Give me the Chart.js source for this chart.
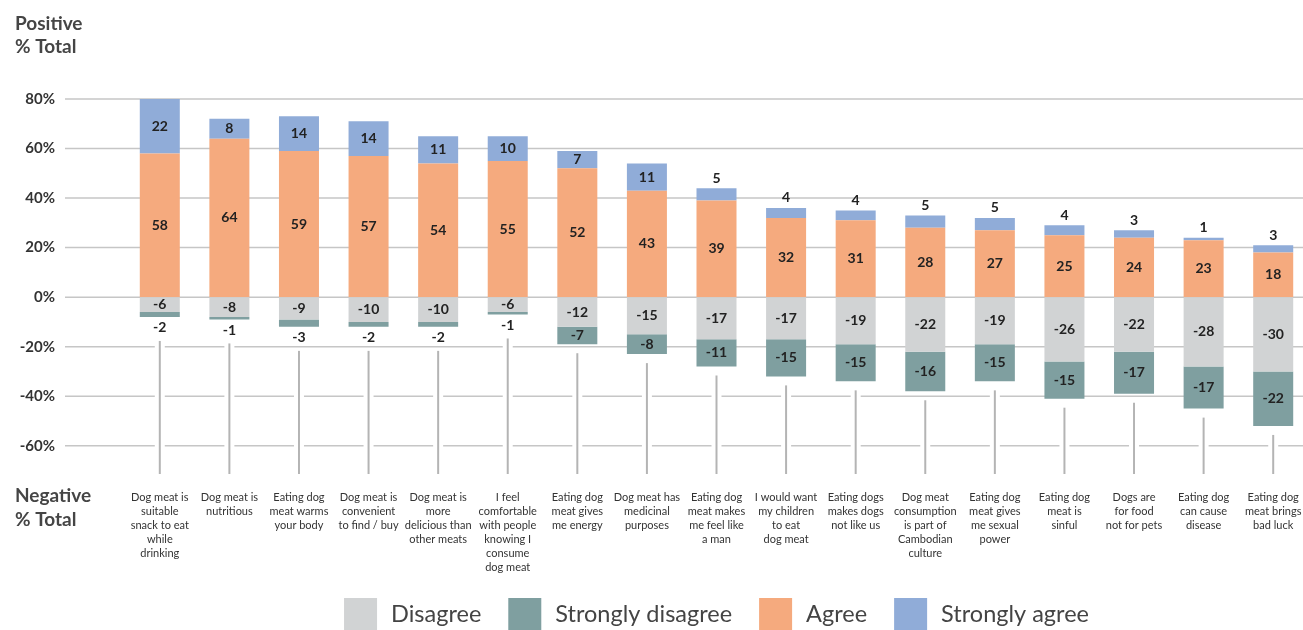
<!DOCTYPE html>
<html><head><meta charset="utf-8">
<script src="https://cdn.jsdelivr.net/npm/chart.js@4/dist/chart.umd.min.js"></script>
<style>
html,body{margin:0;padding:0;background:#fff;overflow:hidden;width:1303px;height:630px}
#wrap{position:relative;width:1308px;height:630px}
</style></head>
<body><div id="wrap"><canvas id="c"></canvas></div>
<script>
const categories = [
  ["Dog meat is","suitable","snack to eat","while","drinking"],
  ["Dog meat is","nutritious"],
  ["Eating dog","meat warms","your body"],
  ["Dog meat is","convenient","to find / buy"],
  ["Dog meat is","more","delicious than","other meats"],
  ["I feel","comfortable","with people","knowing I","consume","dog meat"],
  ["Eating dog","meat gives","me energy"],
  ["Dog meat has","medicinal","purposes"],
  ["Eating dog","meat makes","me feel like","a man"],
  ["I would want","my children","to eat","dog meat"],
  ["Eating dogs","makes dogs","not like us"],
  ["Dog meat","consumption","is part of","Cambodian","culture"],
  ["Eating dog","meat gives","me sexual","power"],
  ["Eating dog","meat is","sinful"],
  ["Dogs are","for food","not for pets"],
  ["Eating dog","can cause","disease"],
  ["Eating dog","meat brings","bad luck"]
];
const disagree         = [-6,-8,-9,-10,-10,-6,-12,-15,-17,-17,-19,-22,-19,-26,-22,-28,-30];
const stronglyDisagree = [-2,-1,-3,-2,-2,-1,-7,-8,-11,-15,-15,-16,-15,-15,-17,-17,-22];
const agree            = [58,64,59,57,54,55,52,43,39,32,31,28,27,25,24,23,18];
const stronglyAgree    = [22,8,14,14,11,10,7,11,5,4,4,5,5,4,3,1,3];
const yTicks = [-60,-40,-20,0,20,40,60,80];
const seriesNames = ["Disagree","Strongly disagree","Agree","Strongly agree"];
const seriesColors = ["#d1d3d4","#7f9fa0","#f5aa7e","#90acd8"];

const FONT = 'Lato, "Open Sans", sans-serif';

const decor = {
  id: 'decor',
  beforeDatasetsDraw(chart) {
    const {ctx, chartArea: a, scales: {x, y}} = chart;
    ctx.save();
    ctx.strokeStyle = '#c6c6c6';
    ctx.lineWidth = 1.5;
    yTicks.forEach(v => {
      const py = y.getPixelForValue(v);
      ctx.beginPath(); ctx.moveTo(65, py); ctx.lineTo(chart.width, py); ctx.stroke();
    });
    categories.forEach((c, i) => {
      const cx = x.getPixelForValue(i);
      const bottom = disagree[i] + stronglyDisagree[i];
      const yb = y.getPixelForValue(bottom);
      const start = yb + (Math.abs(stronglyDisagree[i]) <= 3 ? 24 : 9);
      ctx.fillStyle = '#fff';
      ctx.fillRect(cx - 5, start, 10, a.bottom - start + 2);
      ctx.strokeStyle = '#b4b4b4';
      ctx.lineWidth = 2;
      ctx.beginPath(); ctx.moveTo(cx, start); ctx.lineTo(cx, a.bottom + 1); ctx.stroke();
    });
    ctx.restore();
  },
  afterDatasetsDraw(chart) {
    const ctx = chart.ctx;
    ctx.save();
    ctx.font = 'bold 14px ' + FONT;
    ctx.fillStyle = '#222';
    ctx.textAlign = 'center';
    ctx.textBaseline = 'middle';
    chart.data.datasets.forEach((ds, di) => {
      const meta = chart.getDatasetMeta(di);
      meta.data.forEach((el, i) => {
        const v = ds.data[i];
        let ty = (el.y + el.base) / 2;
        if (di === 3 && v < 7) ty = el.y - 10;
        if (di === 1 && Math.abs(v) <= 3) ty = el.y + 11;
        ctx.fillText(String(v), el.x, ty);
      });
    });
    ctx.restore();
  },
  afterDraw(chart) {
    const {ctx, chartArea: a} = chart;
    ctx.save();
    ctx.fillStyle = '#454545';
    ctx.font = 'bold 19px ' + FONT;
    ctx.textAlign = 'left';
    ctx.textBaseline = 'alphabetic';
    ctx.fillText('Positive', 15, 30);
    ctx.fillText('% Total', 15, 53);
    ctx.fillText('Negative', 15, 502);
    ctx.fillText('% Total', 15, 526);
    // legend
    ctx.font = '23.5px ' + FONT;
    const box = 33, gapT = 14, gapI = 27;
    const widths = seriesNames.map(n => ctx.measureText(n).width);
    const total = widths.reduce((s, w) => s + box + gapT + w, 0) + gapI * (seriesNames.length - 1);
    let lx = (a.left + a.right) / 2 - total / 2;
    ctx.textBaseline = 'middle';
    seriesNames.forEach((n, i) => {
      ctx.fillStyle = seriesColors[i];
      ctx.fillRect(lx, 598, box, 32);
      ctx.fillStyle = '#444';
      ctx.fillText(n, lx + box + gapT, 614);
      lx += box + gapT + widths[i] + gapI;
    });
    ctx.restore();
  }
};

new Chart(document.getElementById('c'), {
  type: 'bar',
  data: {
    labels: categories,
    datasets: [
      {label: seriesNames[0], data: disagree, backgroundColor: seriesColors[0]},
      {label: seriesNames[1], data: stronglyDisagree, backgroundColor: seriesColors[1]},
      {label: seriesNames[2], data: agree, backgroundColor: seriesColors[2]},
      {label: seriesNames[3], data: stronglyAgree, backgroundColor: seriesColors[3]}
    ]
  },
  options: {
    responsive: true,
    maintainAspectRatio: false,
    animation: false,
    layout: {padding: {top: 99, bottom: 39, left: 0, right: 0}},
    datasets: {bar: {categoryPercentage: 1, barPercentage: 0.575, borderWidth: 0}},
    plugins: {legend: {display: false}, tooltip: {enabled: false}},
    scales: {
      x: {
        stacked: true,
        grid: {display: false, drawTicks: false},
        border: {display: false},
        afterFit: s => { s.paddingRight = 0; s.paddingLeft = 0; },
        ticks: {
          autoSkip: false, maxRotation: 0, minRotation: 0, padding: 17,
          color: '#333', font: {family: FONT, size: 11, lineHeight: '14px'}
        }
      },
      y: {
        stacked: true,
        min: -71, max: 80,
        grid: {display: false, drawTicks: false},
        border: {display: false},
        afterBuildTicks: s => { s.ticks = yTicks.map(v => ({value: v})); },
        afterFit: s => { s.width = 125; },
        ticks: {
          padding: 70, color: '#333',
          font: {family: FONT, size: 15, weight: 'bold'},
          callback: v => v + '%'
        }
      }
    }
  },
  plugins: [decor]
});
</script>
</body></html>
